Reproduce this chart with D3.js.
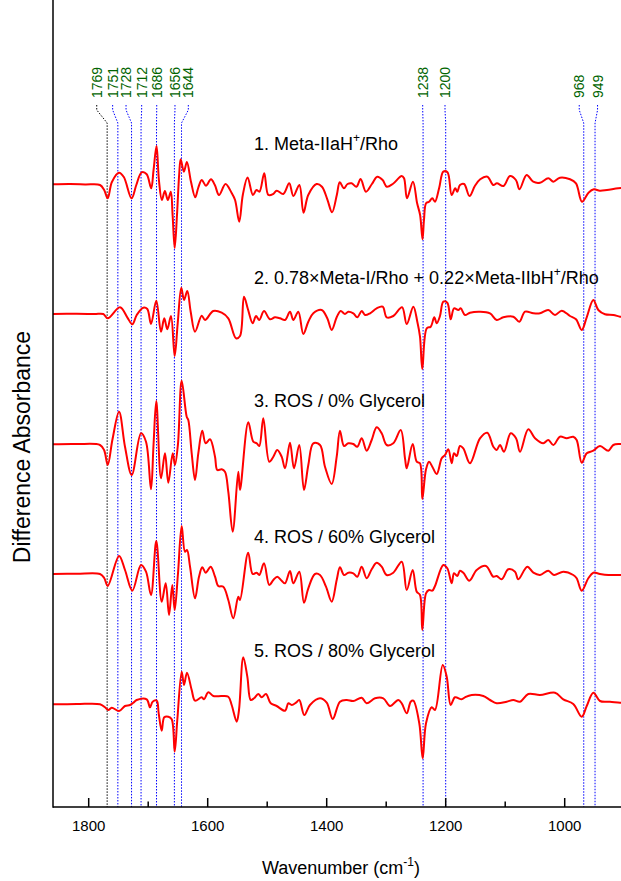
<!DOCTYPE html>
<html lang="en">
<head>
  <meta charset="UTF-8" />
  <title>Difference FTIR spectra</title>
  <script src="https://d3js.org/d3.v7.min.js"></script>
  <style>
    body { margin: 0; background: #fff; font-family: Arial, "Liberation Sans", sans-serif; }
    text { font-family: Arial, "Liberation Sans", sans-serif; }
  </style>
</head>
<body>
  <svg width="621" height="881"></svg>
  <script>
    // ---- data (wavenumber cm-1, difference absorbance in arbitrary units) ----
    const spec1 = [[1860,0],[1831,0.03],[1806,-0.02],[1781,-0.07],[1774,-0.57],[1768,-1.4],[1761,0.23],[1749,1.16],[1741,0.73],[1728,-1.4],[1720,-0.07],[1711,1.2],[1702.5,1.0],[1695,-0.4],[1691,1.43],[1686,3.83],[1682,0.43],[1677,-1.57],[1672,-0.67],[1667,-1.57],[1662,-0.74],[1659,-3.07],[1655.5,-6.37],[1651.6,-3.07],[1648,0.93],[1645.4,2.5],[1640,1.26],[1635,2.23],[1628,0.23],[1621,-1.3],[1616,-0.37],[1610,0.43],[1603,-0.14],[1594.5,0.5],[1588,-0.07],[1581,-1.07],[1570,0.03],[1560,-0.84],[1554,-1.57],[1547,-3.74],[1541,-1.07],[1533,0.68],[1524,-1.07],[1518,-0.57],[1513,-0.74],[1505,1.1],[1498,-1.07],[1490,-0.97],[1484,-0.64],[1473,-0.97],[1463,0.1],[1456,-1.17],[1446,-0.07],[1439,-2.84],[1431,-1.07],[1417,0.03],[1408,-0.24],[1399,-1.5],[1391,-2.8],[1383,-1.07],[1378,0.2],[1371,-0.4],[1365,0.03],[1358,0.1],[1350,-0.24],[1343,0.53],[1334,-0.74],[1324,0.03],[1315,0.76],[1306,0.43],[1299,-0.24],[1289,0.03],[1274,0.83],[1270,0.6],[1265,-1.4],[1255,0.26],[1248,-1.9],[1243,-3.07],[1239,-5.5],[1236.5,-3.57],[1233,-1.9],[1228,-1.74],[1222.5,-1.4],[1218,-1.74],[1211,-0.37],[1204,1.26],[1197,1.2],[1190,-1.07],[1184,-0.4],[1180.5,-0.74],[1176,-0.07],[1169,0.03],[1160,-1.17],[1151,-0.17],[1142,0.5],[1130,0.76],[1120,-0.07],[1114,0.1],[1103,-0.17],[1092,0.83],[1082,0.43],[1076,-0.5],[1064,0.93],[1053,0.26],[1041.5,0.16],[1027.6,0.6],[1019,0.26],[1008,0.66],[991,0.5],[981,0.1],[971,-1.74],[960,-0.84],[951,-0.5],[941,-0.64],[929,-0.57],[910,-0.4],[900,-0.37]];

    const spec2 = [[1860,0],[1820,0.02],[1790,0],[1775.5,0],[1768,-0.43],[1747.4,0.67],[1735.2,-0.33],[1726.7,-1.03],[1719.3,-0.1],[1708.3,0.63],[1701.5,0.5],[1695.3,-1.0],[1686.4,1.33],[1678.5,-1.77],[1673,-0.43],[1667.9,-1.53],[1661.7,-0.2],[1655.5,-4.2],[1650.4,-0.93],[1644.4,2.63],[1639.8,1.4],[1634.3,2.3],[1628.6,0.23],[1621.3,-1.77],[1610.1,-0.17],[1604.5,-0.6],[1590.6,0.3],[1576.5,0.13],[1565.4,-0.43],[1552.4,-2.43],[1545.7,-2.2],[1539,1.73],[1532.5,0.5],[1524.4,-0.93],[1518.8,-0.2],[1513.3,-0.6],[1505.4,0.3],[1495.3,-0.53],[1486.9,-0.33],[1478.5,-0.43],[1470.1,-0.6],[1461.7,0.23],[1456.1,-0.6],[1447.7,0.23],[1439.3,-2.0],[1430.9,-0.77],[1422.5,0.07],[1408.4,0.4],[1399,-0.43],[1391.6,-1.6],[1383.2,-0.33],[1376.5,0.3],[1369.3,0],[1363.7,0.23],[1355.3,0.07],[1348.6,-0.33],[1341.2,0.3],[1335.6,-0.1],[1327.2,0.07],[1316,0.57],[1305.9,0.73],[1299.2,-0.33],[1288.1,-0.2],[1273.4,0.67],[1265.5,-1.0],[1254.4,0.73],[1247.7,-0.77],[1243.2,-2.27],[1239.3,-5.5],[1231.9,-1.43],[1225.2,-1.27],[1219.2,-0.33],[1215.1,-0.93],[1209.6,-0.2],[1204,1.23],[1197.3,1.13],[1191.6,-0.53],[1186,0.57],[1178.8,0.4],[1174.8,0.57],[1167.6,-0.1],[1159.2,0.13],[1142.4,0.23],[1125.5,0.07],[1114.3,-0.6],[1103.2,-0.33],[1086.4,-0.27],[1076.3,-0.77],[1066.7,0.23],[1052.7,0.07],[1041.5,0.07],[1027.6,0.4],[1016.3,-0.1],[1005.1,0.33],[991.1,-0.2],[981,-0.53],[971.4,-1.6],[963,-0.33],[951.9,1.4],[943.5,0.4],[932.3,-0.03],[918.3,-0.1],[907,-0.27],[900,-0.3]];

    const spec3 = [[1860,0],[1820,0.02],[1781,-0.07],[1774,-0.6],[1768,-2.07],[1760,0.5],[1749,3.26],[1739,-0.24],[1727.7,-3.07],[1712.1,1.1],[1703.7,0.26],[1695.3,-4.5],[1691,0],[1686.4,4.33],[1678.5,-3.4],[1671.8,-0.9],[1666.2,-3.84],[1658.8,-0.9],[1655,-2.07],[1650,0],[1643.7,6.36],[1635.3,2.76],[1632.6,2.43],[1626.9,-0.9],[1621.3,-3.57],[1615.8,-0.9],[1609.1,1.36],[1603.4,0.1],[1596.1,0.5],[1587.7,-1.24],[1583.9,-2.57],[1576.5,-2.5],[1571,-2.74],[1565.4,-4.74],[1558,-8.74],[1548.6,-2.74],[1545.7,-4.57],[1531.8,2.2],[1523.4,0.26],[1517.7,0.1],[1513.3,-0.17],[1506.6,2.6],[1496.5,-1.74],[1489.7,-1.24],[1483.1,-0.57],[1475.7,-1.24],[1470.1,-2.4],[1461.7,0.16],[1455,-2.4],[1446.1,-0.07],[1438.2,-4.57],[1430.9,-2.07],[1422.5,0.1],[1411.3,-0.07],[1402.9,-2.24],[1391.6,-3.97],[1383.2,-1.24],[1377.7,1.36],[1370.9,-0.17],[1363.7,0.1],[1355.3,0.03],[1348.6,-0.24],[1341.2,0.6],[1332.8,-0.64],[1324.4,0.43],[1316,1.7],[1307.6,1.1],[1299.2,-0.07],[1288.1,0.1],[1275.6,1.43],[1268.4,-1.4],[1265.5,-2.4],[1255.5,0.03],[1248.7,-1.74],[1243.2,-1.9],[1239.3,-5.47],[1233.1,-2.5],[1228,-1.74],[1222.5,-2.24],[1215.1,-2.97],[1206.7,-1.4],[1201.2,-1.07],[1195.6,-0.5],[1189.9,-1.9],[1186,-0.9],[1181.5,-1.17],[1176,-0.17],[1170.4,-0.4],[1159.2,-1.9],[1142.4,0.6],[1130.1,1.16],[1120,-0.24],[1114.3,-0.57],[1108.7,-0.07],[1102,-0.74],[1090.8,1.1],[1081.8,0.6],[1075.1,-0.74],[1061.2,1.5],[1049.9,0.6],[1036,0.1],[1027.6,0.43],[1019.1,-0.07],[1007.9,0.76],[996.7,0.6],[985.6,0.76],[979.9,0.43],[971.4,-1.84],[963,-0.9],[951.9,-0.64],[940.7,-0.17],[926.6,-0.64],[918.3,-0.07],[907,0.03],[900,0.05]];

    const spec4 = [[1860,0],[1820,0.02],[1781,0],[1774,-0.4],[1768,-1.2],[1749,1.8],[1739,0.4],[1726.7,-1.67],[1712.1,0.9],[1703.7,0.23],[1695.3,-2.1],[1686.4,3.3],[1677.3,-2.77],[1670.6,-0.93],[1665,-4.1],[1659.5,-1.1],[1655.5,-3.6],[1650,0],[1643.7,4.8],[1638.2,2.23],[1634.8,2.4],[1629.7,0.73],[1621.3,-2.43],[1614.6,-0.27],[1609.1,0.67],[1603.4,0.13],[1595,0.73],[1587.7,-0.27],[1582.2,-1.2],[1573.8,-1.27],[1565.4,-2.6],[1557,-4.43],[1548.6,-2.27],[1545.7,-2.6],[1532,2.13],[1524.4,0],[1517.7,0.13],[1513.3,-0.1],[1505.4,1.07],[1496.5,-1.1],[1489.7,-0.6],[1483.1,-0.27],[1475.7,-0.67],[1470.1,-0.93],[1461.7,0.3],[1456.1,-0.93],[1446.1,0.23],[1438.2,-2.87],[1430.9,-1.43],[1419.7,0],[1411.3,-0.1],[1401.2,-1.27],[1391.6,-2.77],[1383.2,-0.6],[1377.7,0.67],[1370.9,-0.1],[1363.7,0.13],[1355.3,0.07],[1348.6,-0.27],[1341.2,0.73],[1332.8,-0.43],[1324.4,0.47],[1316,1.13],[1307.6,0.73],[1299.2,-0.1],[1288.1,0.13],[1273.9,1.23],[1265.5,-1.6],[1255.5,0.4],[1248.7,-1.77],[1243.2,-2.1],[1239.3,-5.6],[1233.1,-1.93],[1228,-1.6],[1222.5,-1.67],[1218,-1.2],[1204,0.9],[1197.3,0.57],[1189.9,-0.93],[1186,0.07],[1180.5,-0.2],[1176,0.33],[1170.4,0.13],[1160.3,-0.67],[1147.9,0.4],[1132.3,0.8],[1120,-0.27],[1114.3,-0.2],[1105.9,-0.53],[1094.8,0.47],[1083.5,0.23],[1078,-0.53],[1062.9,0.73],[1052.7,0.13],[1041.5,-0.1],[1027.6,0.33],[1018,-0.1],[1002.4,0.23],[985.6,-0.1],[979.9,-0.43],[971.4,-1.67],[960.3,-0.43],[951.9,0.13],[940.7,0],[926.6,-0.1],[907,-0.1],[900,-0.1]];

    const spec5 = [[1860,0],[1820,0.02],[1781,0],[1772.6,-0.3],[1767,-0.57],[1761.3,-0.34],[1749,-0.67],[1739,-0.17],[1730.6,-0.07],[1725,0.16],[1719.3,0.43],[1702.5,0.5],[1697,-0.3],[1692.5,0.26],[1685.7,0.36],[1682.4,-0.9],[1677.3,-2.64],[1673,-1.3],[1666.2,-1.24],[1660.5,-1.5],[1655.5,-4.74],[1651.1,-1.57],[1643.7,3.26],[1639.8,1.93],[1634.8,3.16],[1626.9,1.43],[1621.3,0.36],[1610.1,0.7],[1606.2,0.5],[1599,1.2],[1590.6,0.83],[1576.5,0.83],[1565.4,0.76],[1559.7,-0.07],[1551.3,-1.74],[1547.4,-0.57],[1540.2,4.7],[1533.4,2.76],[1527.7,0.43],[1522.2,0.6],[1515,1.03],[1509.3,0.7],[1502,1.03],[1494.1,0.1],[1484.1,-0.17],[1470.1,-0.64],[1464.5,0.1],[1458.8,-0.07],[1451.6,0.16],[1446.1,0.43],[1437.7,-1.07],[1428.1,-0.07],[1411.3,0.6],[1400,0.16],[1389.9,-1.47],[1377.7,0.26],[1366.4,0.43],[1355.3,0.33],[1341.2,0.66],[1332.8,0.1],[1318.8,0.6],[1304.9,0.6],[1293.6,-0.17],[1279.7,0.43],[1273.9,0.1],[1265.5,-0.9],[1258.8,0.26],[1254.4,0.36],[1244.4,-1.9],[1238.7,-5.4],[1233.1,-1.9],[1223.5,-0.3],[1218,-0.57],[1205,3.93],[1198.3,2.76],[1191.6,-0.07],[1184.4,0.7],[1173.1,0.5],[1167.6,0.7],[1156.3,0.93],[1136.8,0.83],[1125.5,0.43],[1114.3,0.1],[1097.5,0.26],[1086.4,0.43],[1075.1,0.26],[1061.2,1.03],[1041.5,0.93],[1016.3,1.16],[1002.4,0.5],[985.6,0.03],[971.4,-1.24],[963,-0.17],[951.9,1.16],[940.7,0.33],[923.9,0.26],[907,0.16],[900,0.16]];

    const spectra = [spec1, spec2, spec3, spec4, spec5];
    const offsets = [62.27, 49.3, 36.27, 23.3, 10.27];
    const seriesLabels = [
      ["1. Meta-IIaH", "+", "/Rho"],
      ["2. 0.78\u00d7Meta-I/Rho + 0.22\u00d7Meta-IIbH", "+", "/Rho"],
      ["3. ROS / 0% Glycerol"],
      ["4. ROS / 60% Glycerol"],
      ["5. ROS / 80% Glycerol"]
    ];
    const peaks = [1769, 1751, 1728, 1712, 1686, 1656, 1644, 1238, 1200, 968, 949];
    const majorTicks = [1800, 1600, 1400, 1200, 1000];
    const minorTicks = [1700, 1500, 1300, 1100, 900];

    // ---- layout ----
    const svg = d3.select("svg");
    const left = 53, bottom = 807;
    const x = d3.scaleLinear().domain([1860, 900]).range([left, 624.2]);
    const y = d3.scaleLinear().domain([0, 80.7]).range([bottom, 0]);
    const labelNudge = [-10.4, -5.2, -5.5, 0.6, 0.2, 0.6, 6.8, -0.4, -0.7, -4.5, 2.5];
    const labelY = [150, 284, 406.7, 543, 657];

    svg.append("defs").append("clipPath").attr("id", "plot")
      .append("rect").attr("x", left).attr("y", 0).attr("width", 621 - left).attr("height", bottom);

    // peak marker lines with leaders
    const peakG = svg.append("g");
    peaks.forEach((p, i) => {
      const px = x(p), lx = px + labelNudge[i];
      const col = i === 0 ? "#000" : "#0000ff";
      peakG.append("path")
        .attr("d", `M${lx},105 L${lx},110 L${px},123 L${px},${bottom}`)
        .attr("fill", "none")
        .attr("stroke", col)
        .attr("stroke-width", 1)
        .attr("stroke-dasharray", "1.5,1.5");
      peakG.append("text")
        .attr("transform", `translate(${lx},98) rotate(-90)`)
        .attr("dy", "0.36em")
        .attr("fill", "#006400")
        .attr("font-size", 14)
        .text(p);
    });

    // spectra
    const line = d3.line()
      .x(d => x(d[0]))
      .y(d => d[1])
      .curve(d3.curveCatmullRom.alpha(0.5));
    svg.append("g").attr("clip-path", "url(#plot)")
      .selectAll("path")
      .data(spectra)
      .join("path")
      .attr("d", (s, i) => line(s.map(d => [d[0], y(offsets[i] + d[1])])))
      .attr("fill", "none")
      .attr("stroke", "#ff0000")
      .attr("stroke-width", 2)
      .attr("stroke-linejoin", "round");

    // series labels
    seriesLabels.forEach((parts, i) => {
      const t = svg.append("text")
        .attr("x", 254)
        .attr("y", labelY[i])
        .attr("font-size", 18)
        .attr("fill", "#000");
      t.append("tspan").text(parts[0]);
      if (parts.length > 1) {
        t.append("tspan").attr("dy", -8).attr("font-size", 12).text(parts[1]);
        t.append("tspan").attr("dy", 8).text(parts[2]);
      }
    });

    // axes
    const xAxis = svg.append("g");
    xAxis.append("line")
      .attr("x1", left).attr("x2", 621).attr("y1", bottom).attr("y2", bottom)
      .attr("stroke", "#000").attr("stroke-width", 1.5);
    svg.append("line")
      .attr("x1", left).attr("x2", left).attr("y1", 0).attr("y2", bottom + 0.75)
      .attr("stroke", "#000").attr("stroke-width", 1.5);
    xAxis.selectAll(".major").data(majorTicks).join("line")
      .attr("x1", d => x(d)).attr("x2", d => x(d))
      .attr("y1", bottom).attr("y2", bottom - 9)
      .attr("stroke", "#000").attr("stroke-width", 1.5);
    xAxis.selectAll(".minor").data(minorTicks).join("line")
      .attr("x1", d => x(d)).attr("x2", d => x(d))
      .attr("y1", bottom).attr("y2", bottom - 5.5)
      .attr("stroke", "#000").attr("stroke-width", 1.5);
    xAxis.selectAll(".lbl").data(majorTicks).join("text")
      .attr("x", d => x(d)).attr("y", 830.5)
      .attr("text-anchor", "middle")
      .attr("font-size", 15)
      .text(d => d);

    const xl = svg.append("text")
      .attr("x", 341).attr("y", 874)
      .attr("text-anchor", "middle")
      .attr("font-size", 18);
    xl.append("tspan").text("Wavenumber (cm");
    xl.append("tspan").attr("dy", -8).attr("font-size", 12).text("-1");
    xl.append("tspan").attr("dy", 8).text(")");

    svg.append("text")
      .attr("transform", "translate(22,447) rotate(-90)")
      .attr("dy", "0.36em")
      .attr("text-anchor", "middle")
      .attr("font-size", 23)
      .text("Difference Absorbance");
  </script>
</body>
</html>
